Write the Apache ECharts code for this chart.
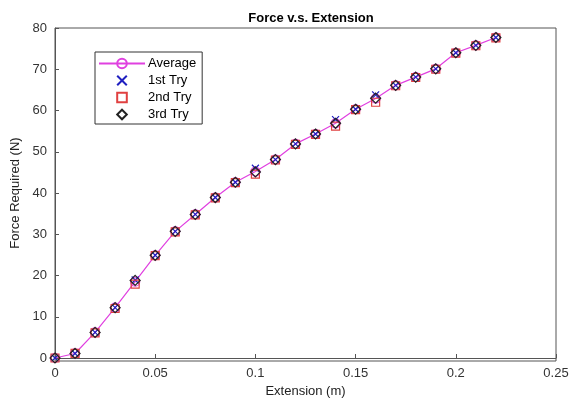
<!DOCTYPE html>
<html>
<head>
<meta charset="utf-8">
<script src="https://cdn.jsdelivr.net/npm/echarts@6/dist/echarts.min.js"></script>
<style>
	html, body { margin: 0; padding: 0; background: #fff; }
	#chart { width: 572px; height: 403px; }
</style>
</head>
<body>
<div id="chart"></div>
<script>
var extension = [0, 0.01, 0.02, 0.03, 0.04, 0.05, 0.06, 0.07, 0.08, 0.09, 0.10, 0.11,
	0.12, 0.13, 0.14, 0.15, 0.16, 0.17, 0.18, 0.19, 0.20, 0.21, 0.22];
var average = [0, 1.1, 6.2, 12.2, 18.5, 24.9, 30.7, 34.8, 38.9, 42.6, 45.2, 48.1,
	51.9, 54.3, 56.9, 60.3, 62.9, 66.1, 68.1, 70.1, 74.0, 75.8, 77.7];
var try1 = [0, 1.1, 6.2, 12.2, 18.9, 24.9, 30.7, 34.8, 38.9, 42.6, 46.0, 48.1,
	51.9, 54.3, 57.8, 60.3, 63.8, 66.1, 68.1, 70.1, 74.0, 75.8, 77.7];
var try2 = [0, 1.1, 6.1, 12.0, 17.9, 24.8, 30.6, 34.7, 38.8, 42.5, 44.6, 48.0,
	51.8, 54.2, 56.2, 60.2, 62.0, 66.0, 68.0, 70.0, 73.9, 75.7, 77.6];
var try3 = [0, 1.1, 6.2, 12.2, 18.8, 24.9, 30.7, 34.8, 38.9, 42.6, 45.1, 48.1,
	51.9, 54.3, 56.9, 60.3, 63.0, 66.1, 68.1, 70.1, 74.0, 75.8, 77.7];

function pairs(ys) {
	var out = [];
	for (var i = 0; i < extension.length; i++) {
		out.push([extension[i], ys[i]]);
	}
	return out;
}

// marker-only series are drawn as lines with an invisible stroke,
// so the legend keeps the marker at its real size
function markers(name, ys, symbol, size, color, z) {
	return {
		name: name,
		type: 'line',
		data: pairs(ys),
		symbol: symbol,
		symbolSize: size,
		showAllSymbol: true,
		lineStyle: { width: 0, opacity: 0 },
		itemStyle: { color: 'rgba(255,255,255,0)', borderColor: color, borderWidth: 1.2 },
		z: z
	};
}

var chart = echarts.init(document.getElementById('chart'));
var font = 'Liberation Sans, Arial, sans-serif';
var axisCol = '#555';
var crossPath = 'path://M0,0L10,10M10,0L0,10';

var option = {
	animation: false,
	backgroundColor: '#fff',
	title: {
		text: 'Force v.s. Extension',
		left: 306,
		textAlign: 'center',
		top: 7,
		textStyle: { fontFamily: font, fontSize: 13, fontWeight: 'bold', color: '#000' }
	},
	legend: {
		left: 95,
		top: 52,
		orient: 'vertical',
		itemGap: 4,
		itemWidth: 46,
		itemHeight: 12,
		padding: [5, 6, 3, 3],
		backgroundColor: '#fff',
		borderColor: '#333',
		borderWidth: 1,
		borderRadius: 0,
		textStyle: { fontFamily: font, fontSize: 13, color: '#000', padding: [0, 0, 0, -2] },
		data: ['Average', '1st Try', '2nd Try', '3rd Try']
	},
	grid: { left: 55, right: 16, top: 28, bottom: 42 },
	xAxis: {
		type: 'value',
		min: 0,
		max: 0.25,
		interval: 0.05,
		name: 'Extension (m)',
		nameLocation: 'middle',
		nameGap: 27,
		nameTextStyle: { fontFamily: font, fontSize: 13, color: '#222' },
		axisLine: { show: true, lineStyle: { color: axisCol } },
		axisTick: { show: true, inside: true, length: 4, lineStyle: { color: axisCol } },
		axisLabel: { fontFamily: font, fontSize: 13, color: '#333', margin: 9 },
		splitLine: { show: false }
	},
	yAxis: {
		type: 'value',
		min: 0,
		max: 80,
		interval: 10,
		name: 'Force Required (N)',
		nameLocation: 'middle',
		nameGap: 31,
		nameTextStyle: { fontFamily: font, fontSize: 13, color: '#222' },
		axisLine: { show: true, lineStyle: { color: axisCol } },
		axisTick: { show: true, inside: true, length: 4, lineStyle: { color: axisCol } },
		axisLabel: { fontFamily: font, fontSize: 13, color: '#333', margin: 8 },
		splitLine: { show: false }
	},
	series: [
		{
			name: 'Average',
			type: 'line',
			data: pairs(average),
			symbol: 'circle',
			symbolSize: 9,
			showAllSymbol: true,
			lineStyle: { color: '#e040e0', width: 1.2 },
			itemStyle: { color: 'rgba(255,255,255,0)', borderColor: '#e040e0', borderWidth: 1.2 },
			z: 2
		},
		markers('1st Try', try1, crossPath, 7, '#2020c0', 3),
		markers('2nd Try', try2, 'rect', 8, '#e04040', 4),
		markers('3rd Try', try3, 'diamond', 10, '#222', 5)
	],
	graphic: [
		{
			// box lines on top and right, like the original figure
			type: 'rect',
			shape: { x: 55, y: 28, width: 501, height: 333 },
			style: { fill: 'none', stroke: axisCol, lineWidth: 1 },
			silent: true,
			z: 0
		}
	]
};
chart.setOption(option);
</script>
</body>
</html>
